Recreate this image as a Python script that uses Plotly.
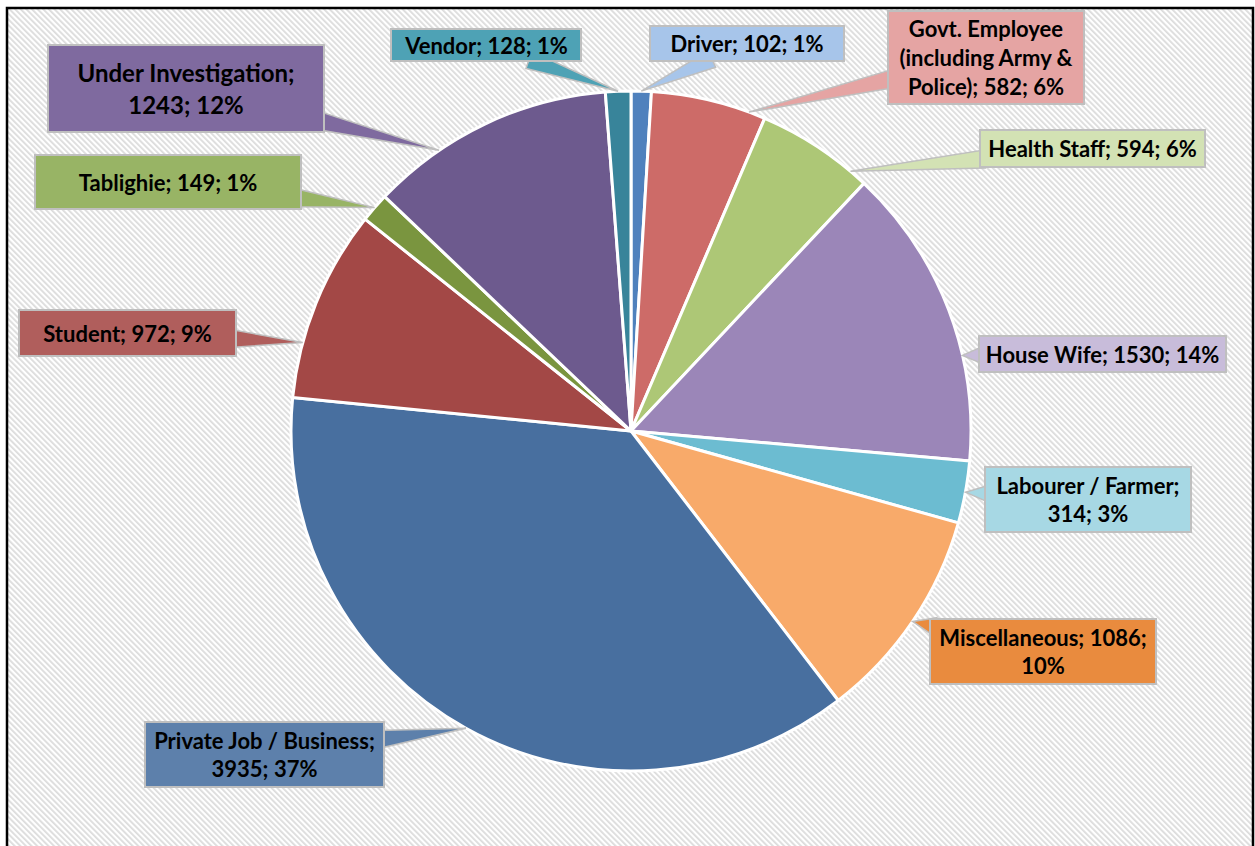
import base64
import math
import textwrap

import plotly.graph_objects as go

# data
labels = [
    "Driver",
    "Govt. Employee (including Army & Police)",
    "Health Staff",
    "House Wife",
    "Labourer / Farmer",
    "Miscellaneous",
    "Private Job / Business",
    "Student",
    "Tablighie",
    "Under Investigation",
    "Vendor",
]
values = [102, 582, 594, 1530, 314, 1086, 3935, 972, 149, 1243, 128]

# styling
slice_colors = [
    "#4F81BD", "#CD6B68", "#ADC776", "#9B86B8", "#6CBCD1", "#F8AA6A",
    "#486F9F", "#A34846", "#7A953F", "#6D5A8E", "#38849A",
]
box_colors = [
    "#A7C5EA", "#E5A4A3", "#D3E2B4", "#C8BCDA", "#A7D8E4", "#E98B3E",
    "#5D80AB", "#B05E5C", "#98B465", "#7F6A9F", "#4EA2B5",
]
# callout boxes in page pixels: centre x, centre y, width, height
boxes = [
    (747, 43, 196, 37),
    (986, 57, 198, 95),
    (1092, 149, 227, 39),
    (1102, 354, 249, 38),
    (1088, 500, 208, 67),
    (1043, 651, 228, 67),
    (264, 754, 241, 67),
    (127, 333, 219, 48),
    (168, 182, 268, 56),
    (186, 88, 278, 89),
    (486, 45, 192, 34),
]
wrap_at = [99, 17, 99, 99, 18, 20, 23, 99, 99, 20, 99]
tip_nudge = [0, 7, 7, 8, 0, 0, 0, -7, 0, -9, 0]
font_sizes = [22, 22, 22, 22, 22, 22, 22, 22, 22, 24, 22]

W, H = 1255, 846
CX, CY, R = 631, 431, 340


def excel_percents(vals):
    # largest remainder rounding, so the labels add up to 100
    total = sum(vals)
    raw = [v * 100 / total for v in vals]
    out = [math.floor(r) for r in raw]
    order = sorted(range(len(vals)), key=lambda i: raw[i] - out[i], reverse=True)
    for i in order[: 100 - sum(out)]:
        out[i] += 1
    return out


def px_to_paper(x, y):
    return x / W, 1 - y / H


pcts = excel_percents(values)
total = sum(values)

fig = go.Figure()
fig.add_trace(
    go.Pie(
        labels=labels,
        values=values,
        sort=False,
        direction="clockwise",
        rotation=0,
        textinfo="none",
        marker=dict(colors=slice_colors, line=dict(color="white", width=3)),
        domain=dict(x=[(CX - R) / W, (CX + R) / W], y=[1 - (CY + R) / H, 1 - (CY - R) / H]),
        showlegend=False,
    )
)

# hatched background inside the border
svg = (
    f'<svg xmlns="http://www.w3.org/2000/svg" width="{W}" height="{H}">'
    '<defs><pattern id="h" width="4" height="4" patternUnits="userSpaceOnUse" '
    'patternTransform="rotate(-45)"><rect width="4" height="4" fill="#ffffff"/>'
    '<rect width="1.8" height="4" fill="#dcdcdc"/></pattern></defs>'
    f'<rect x="0" y="0" width="{W}" height="{H}" fill="url(#h)"/></svg>'
)
fig.add_layout_image(
    source="data:image/svg+xml;base64," + base64.b64encode(svg.encode()).decode(),
    xref="paper", yref="paper", x=7 / W, y=1 - 8 / H,
    sizex=(1253 - 7) / W, sizey=1, sizing="stretch", layer="below",
)

shapes = []
annotations = []
cum = 0
for i, v in enumerate(values):
    mid = (cum + v / 2) / total * 360 + tip_nudge[i]
    cum += v
    tx = CX + R * math.sin(math.radians(mid))
    ty = CY - R * math.cos(math.radians(mid))
    bx, by, bw, bh = boxes[i]
    dx, dy = tx - bx, ty - by
    s = min((bw / 2) / abs(dx) if dx else 1e9, (bh / 2) / abs(dy) if dy else 1e9)
    d = math.hypot(dx, dy)
    ux, uy = dx / d, dy / d
    ex, ey = bx + dx * s - ux * 6, by + dy * s - uy * 6
    hw = 9
    pts = [(tx, ty), (ex - uy * hw, ey + ux * hw), (ex + uy * hw, ey - ux * hw)]
    path = "M " + " L ".join("{:.4f},{:.4f}".format(*px_to_paper(*p)) for p in pts) + " Z"
    shapes.append(dict(type="path", path=path, xref="paper", yref="paper",
                       fillcolor=box_colors[i], line=dict(color="#BFBFBF", width=1.5),
                       layer="above"))

    text = f"{labels[i]}; {v}; {pcts[i]}%"
    text = "<br>".join(textwrap.wrap(text, wrap_at[i]))
    ax, ay = px_to_paper(bx, by)
    annotations.append(dict(
        x=ax, y=ay, xref="paper", yref="paper", showarrow=False,
        xanchor="center", yanchor="middle",
        text=f"<b>{text}</b>", align="center",
        width=bw - 8, height=bh - 8, borderpad=2, borderwidth=2,
        bgcolor=box_colors[i], bordercolor="#BFBFBF",
        font=dict(family="Lato, Arial, sans-serif", size=font_sizes[i], color="#000000"),
    ))

# chart border
shapes.append(dict(type="rect", xref="paper", yref="paper",
                   x0=7 / W, x1=1253 / W, y0=-0.02, y1=1 - 8 / H,
                   line=dict(color="#000000", width=2.5), layer="above"))

fig.update_layout(
    width=W, height=H,
    margin=dict(l=0, r=0, t=0, b=0),
    paper_bgcolor="white", plot_bgcolor="white",
    shapes=shapes, annotations=annotations,
)

fig.write_html(
    "out.html",
    config={"displayModeBar": False},
    post_script="document.body.style.margin='0';",
)
